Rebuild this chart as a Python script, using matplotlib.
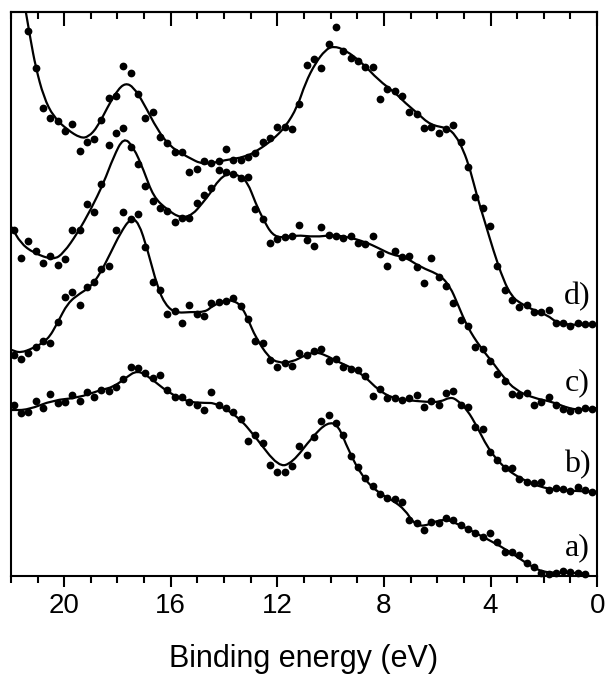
import numpy as np
import matplotlib
matplotlib.use('Agg')
import matplotlib.pyplot as plt
from matplotlib.ticker import MultipleLocator
from matplotlib.path import Path
from matplotlib.patches import PathPatch

# measured points: energy grid 21.9 eV downwards in 0.275 eV steps
energy = np.round(21.9 - 0.275 * np.arange(80), 3)

dots_a = [171, 163, 164, 175, 168, 182, 173, 174, 181, 175, 184, 179, 186, 185, 189, 197,
          209, 208, 203, 198, 201, 186, 179, 179, 174, 171, 166, 184, 171, 168, 164, 157,
          135, 141, 133, 111, 104, 104, 110, 130, 121, 139, 155, 161, 153, 141, 120, 109,
          98, 90, 82, 78, 77, 74, 56, 53, 46, 54, 53, 58, 56, 51, 47, 43, 39, 43,
          34, 24, 24, 21, 13, 9, 3, 2, 3, 5, 4, 3, 2]
dots_b = [221, 217, 223, 229, 235, 233, 254, 279, 284, 271, 289, 294, 307, 310, 346, 364,
          357, 362, 329, 294, 286, 262, 265, 253, 271, 262, 260, 273, 274, 275, 278, 270,
          257, 235, 233, 216, 209, 213, 210, 223, 221, 225, 227, 215, 217, 209, 207, 206,
          200, 180, 187, 178, 178, 176, 178, 181, 169, 175, 171, 183, 185, 171, 169, 149,
          147, 124, 116, 108, 108, 97, 94, 93, 94, 86, 88, 87, 85, 89, 86, 84]
dots_c = [346, 318, 335, 325, 313, 320, 311, 317, 346, 346, 372, 364, 392, 431, 443, 448,
          429, 412, 390, 375, 368, 365, 354, 358, 358, 373, 381, 388, 406, 404, 402, 398,
          399, 367, 357, 333, 337, 339, 340, 351, 336, 330, 349, 341, 340, 338, 340, 333,
          332, 340, 322, 310, 325, 319, 320, 309, 293, 318, 299, 290, 273, 256, 250, 229,
          227, 215, 202, 195, 182, 181, 183, 171, 174, 179, 171, 167, 165, 166, 168, 167]
# curve d leaves the frame at the high-energy end, starts at the third grid point
dots_d = [545, 508, 468, 458, 455, 445, 452, 425, 434, 437, 456, 478, 480, 510,
          503, 482, 458, 464, 439, 433, 424, 424, 404, 407, 415, 413, 415, 427, 416, 416,
          419, 423, 434, 438, 449, 449, 447, 472, 511, 517, 508, 532, 549, 525, 518, 515,
          509, 509, 477, 487, 485, 480, 464, 462, 448, 449, 443, 447, 451, 434, 409, 379,
          368, 350, 310, 286, 276, 269, 271, 264, 264, 266, 253, 253, 250, 253, 252, 252]

# smoothed curves
fit_a_e = [21.97, 21.37, 20.40, 19.50, 18.64, 18.15, 17.70, 17.25, 16.76, 16.12, 15.37,
           14.70, 14.32, 13.46, 12.82, 11.96, 11.44, 10.69, 10.12, 9.71, 9.34, 8.81,
           8.21, 7.69, 7.20, 6.90, 6.52, 5.77, 5.14, 4.27, 3.37, 2.40, 1.87, 0.64, 0.40]
fit_a_i = [166, 166, 176, 178, 186, 189, 198, 206, 198, 184, 174,
           173, 173, 159, 139, 109, 113, 139, 154, 151, 126, 99,
           83, 76, 66, 53, 49, 58, 51, 39, 26, 8, 3, 3, 3]

fit_b_e = [21.97, 21.64, 21.15, 20.62, 20.25, 19.87, 19.39, 19.01, 18.64, 18.26, 17.89,
           17.51, 17.21, 16.87, 16.50, 16.20, 15.82, 15.26, 14.70, 14.44, 13.95, 13.57,
           13.31, 13.09, 12.82, 12.34, 11.96, 11.44, 10.95, 10.57, 10.20, 9.71, 9.19,
           8.70, 8.21, 7.69, 7.20, 6.37, 5.89, 5.51, 5.25, 4.87, 4.50, 4.12, 3.75,
           3.37, 2.77, 2.14, 1.50, 0.00]
fit_b_i = [226, 223, 228, 236, 253, 273, 283, 289, 303, 323, 343,
           358, 354, 326, 289, 271, 263, 264, 264, 270, 276, 275,
           268, 256, 239, 219, 213, 214, 221, 224, 221, 214, 208,
           199, 186, 178, 176, 174, 174, 179, 176, 166, 149, 129, 116,
           106, 96, 89, 86, 84]

fit_c_e = [21.97, 21.64, 21.15, 20.40, 20.02, 19.50, 19.01, 18.52, 18.15, 17.77, 17.40,
           17.02, 16.65, 16.12, 15.64, 15.19, 14.81, 14.51, 14.21, 13.84, 13.46, 13.12,
           12.82, 12.52, 12.19, 11.81, 11.32, 10.57, 9.94, 9.34, 8.70, 8.21, 7.69,
           7.20, 6.64, 5.89, 5.51, 5.25, 4.87, 4.39, 3.90, 3.52, 3.07, 2.40, 1.65,
           1.12, 0.64, 0.00]
fit_c_i = [349, 333, 323, 316, 323, 343, 366, 393, 419, 439, 429,
           406, 379, 366, 358, 361, 373, 383, 396, 403, 401, 394,
           373, 356, 341, 338, 341, 339, 341, 339, 334, 328, 321,
           319, 309, 301, 289, 273, 249, 229, 213, 199, 186, 178, 174,
           168, 166, 168]

fit_d_e = [21.56, 21.45, 21.26, 21.07, 20.77, 20.40, 19.87, 19.39, 19.09, 18.75, 18.37,
           18.00, 17.70, 17.40, 17.02, 16.50, 16.01, 15.37, 14.77, 13.95, 13.20, 12.71,
           12.19, 11.70, 11.25, 10.95, 10.57, 10.20, 9.90, 9.45, 8.81, 8.21, 7.57,
           7.20, 6.75, 6.26, 5.62, 5.32, 5.02, 4.76, 4.50, 4.20, 3.90, 3.52, 3.19,
           2.89, 2.40, 1.87, 1.50, 0.90, 0.00]
fit_d_i = [581, 566, 536, 509, 479, 459, 446, 438, 439, 449, 469,
           486, 493, 489, 473, 446, 429, 419, 411, 416, 419, 426,
           436, 449, 469, 493, 513, 526, 530, 526, 513, 496, 483,
           473, 463, 451, 448, 441, 426, 406, 379, 353, 326, 296, 279,
           273, 266, 261, 253, 251, 251]

labels = ['a)', 'b)', 'c)', 'd)']
label_y = [28, 111, 193, 279]


def smooth_curve(xs, ys):
    # quadratic bezier through the midpoints, knots act as control points
    pts = np.column_stack([xs, ys]).astype(float)
    mids = (pts[:-1] + pts[1:]) / 2
    verts = [pts[0], mids[0]]
    codes = [Path.MOVETO, Path.LINETO]
    for i in range(1, len(pts) - 1):
        verts += [pts[i], mids[i]]
        codes += [Path.CURVE3, Path.CURVE3]
    verts.append(pts[-1])
    codes.append(Path.LINETO)
    return Path(verts, codes)


fig = plt.figure(figsize=(6.05, 6.74), dpi=100)
ax = fig.add_axes([0.018, 0.1454, 0.969, 0.8368])

series = [
    (energy[:len(dots_a)], dots_a, fit_a_e, fit_a_i),
    (energy, dots_b, fit_b_e, fit_b_i),
    (energy, dots_c, fit_c_e, fit_c_i),
    (energy[2:], dots_d, fit_d_e, fit_d_i),
]
for e, pts, fe, fi in series:
    ax.plot(e, pts, 'o', color='black', ms=5.6, mew=0, clip_on=False)
    ax.add_patch(PathPatch(smooth_curve(fe, fi), facecolor='none',
                           edgecolor='black', lw=1.6))

for lab, y in zip(labels, label_y):
    ax.text(0.75, y, lab, ha='center', va='center', fontsize=23,
            family='Liberation Serif')

ax.set_xlim(22, 0)
ax.set_ylim(0, 564)
ax.set_yticks([])
ax.xaxis.set_major_locator(MultipleLocator(4))
ax.xaxis.set_minor_locator(MultipleLocator(1))
ax.tick_params(axis='x', which='major', direction='out', length=8, width=1.5,
               labelsize=20, pad=4)
ax.tick_params(axis='x', which='minor', direction='out', length=5, width=1.5)
for lbl in ax.get_xticklabels():
    lbl.set_family('Liberation Sans')

top = ax.secondary_xaxis('top')
top.xaxis.set_major_locator(MultipleLocator(4))
top.xaxis.set_minor_locator(MultipleLocator(1))
top.tick_params(axis='x', which='major', direction='in', length=10, width=1.5,
                labeltop=False)
top.tick_params(axis='x', which='minor', direction='in', length=5, width=1.5)
top.spines['top'].set_linewidth(1.5)

for sp in ax.spines.values():
    sp.set_linewidth(1.5)

ax.set_xlabel('Binding energy (eV)', fontsize=22, family='Liberation Sans',
              labelpad=18)

fig.savefig('out.png', dpi=100)
